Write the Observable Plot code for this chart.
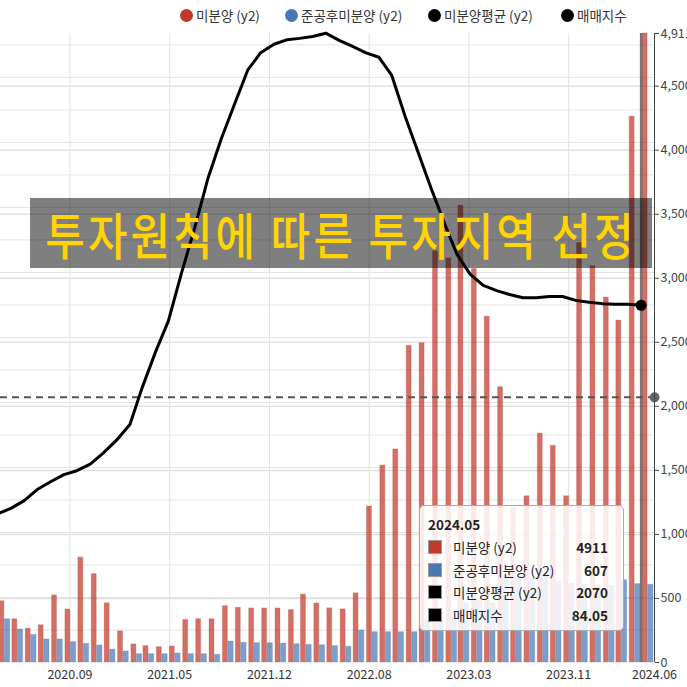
<!DOCTYPE html>
<html><head><meta charset="utf-8">
<script src="https://cdn.jsdelivr.net/npm/d3@7"></script>
<script src="https://cdn.jsdelivr.net/npm/@observablehq/plot@0.6"></script>
<style>
body{margin:0;background:#fff;font-family:"Noto Sans CJK KR","Noto Sans",sans-serif;}
#wrap{position:relative;width:687px;height:687px;overflow:hidden;}
#legend{height:28px;position:relative;font-size:13.5px;color:#333;}
#legend .item{position:absolute;top:6px;display:flex;align-items:center;white-space:nowrap;line-height:18px;}
#legend .sw{width:13px;height:13px;border-radius:50%;margin-right:3px;display:inline-block;}
#banner{position:absolute;left:30px;top:198px;width:622px;height:70px;background:rgba(0,0,0,0.5);
  display:flex;align-items:center;justify-content:center;}
#banner span{color:#ffd400;font-size:43px;font-weight:500;letter-spacing:3px;white-space:nowrap;display:inline-block;transform:scaleY(1.15);}
#tip{position:absolute;left:419px;top:505px;width:205px;height:126px;box-sizing:border-box;border:1px solid #aaa;border-radius:5px;
  background:rgba(255,255,255,0.86);font-size:13.5px;color:#222;}
#tip .title{position:absolute;left:8px;top:8px;font-weight:700;}
#tip .row{position:absolute;left:8px;width:180px;height:18px;display:flex;align-items:center;}
#tip .sq{width:12px;height:12px;border:1px solid #999;margin-right:11px;}
#tip .lab{flex:1;}
#tip .val{font-weight:700;text-align:right;}
</style></head><body>
<div id="wrap">
  <div id="legend"></div>
  <div id="chart"></div>
  <div id="banner"><span id="bannerText"></span></div>
  <div id="tip"></div>
</div>
<script>
const months = ["2020.04","2020.05","2020.06","2020.07","2020.08","2020.09","2020.10","2020.11","2020.12",
"2021.01","2021.02","2021.03","2021.04","2021.05","2021.06","2021.07","2021.08","2021.09","2021.10","2021.11","2021.12",
"2022.01","2022.02","2022.03","2022.04","2022.05","2022.06","2022.07","2022.08","2022.09","2022.10","2022.11","2022.12",
"2023.01","2023.02","2023.03","2023.04","2023.05","2023.06","2023.07","2023.08","2023.09","2023.10","2023.11","2023.12",
"2024.01","2024.02","2024.03","2024.04","2024.05"];
const unsold = [478,338,264,291,524,414,819,690,462,243,141,128,120,125,333,338,338,440,427,422,422,422,409,530,461,423,415,540,
1218,1538,1663,2472,2493,3211,3155,3567,3072,2700,2150,1208,1298,1787,1692,1298,3275,3094,2849,2670,4262,4911];
const completedUnsold = [338,258,216,180,180,159,146,133,101,86,65,65,65,70,65,65,60,164,154,151,151,148,143,138,135,128,123,250,
237,237,237,237,330,341,341,461,487,461,674,669,656,682,627,617,612,604,598,643,612,607];
const priceIndex = [52.0,52.8,54.0,55.7,56.9,58.0,58.6,59.6,61.3,63.3,65.7,71.3,76.8,81.6,89.1,95.9,103.6,109.7,114.9,120.2,122.9,
124.2,124.9,125.1,125.4,125.9,124.8,123.9,122.9,122.2,119.4,113.1,107.6,101.9,96.5,91.9,88.8,87.1,86.3,85.7,85.2,85.2,85.4,85.4,
84.8,84.5,84.3,84.2,84.2,84.05];
const unsoldAvg = 2070;
const xTickLabels = ["2020.09","2021.05","2021.12","2022.08","2023.03","2023.11","2024.06"];
const y2Ticks = [0,500,1000,1500,2000,2500,3000,3500,4000,4500,4911];
const seriesNames = ["미분양 (y2)","준공후미분양 (y2)","미분양평균 (y2)","매매지수"];
const seriesColors = ["#c0392b","#4a78b5","#000000","#000000"];
const bannerText = "투자원칙에 따른 투자지역 선정";

const parseMonth = s => { const [y,m] = s.split(".").map(Number); return new Date(Date.UTC(y, m-1, 1)); };
const DAY = 864e5;
const data = months.map((m,i)=>({month:m, date:parseMonth(m), unsold:unsold[i], comp:completedUnsold[i], idx:priceIndex[i]}));
const last = data[data.length-1];

const xStart = new Date(+parseMonth(months[0]) + 6*DAY);
const xEnd = parseMonth(xTickLabels[xTickLabels.length-1]);
const yMax = y2Ticks[y2Ticks.length-1];

// tick dates: evenly spaced between mid-month of first and sixth label, plus the domain end
const t0 = +parseMonth(xTickLabels[0]) + 14*DAY, t5 = +parseMonth(xTickLabels[5]) + 14*DAY;
const tickDates = xTickLabels.map((l,k)=> k < 6 ? new Date(t0 + (t5-t0)*k/5) : xEnd);

// hidden index axis mapped onto the y2 scale
const idxLo = 29.1, idxHi = 125.85;
const idxToY2 = d3.scaleLinear().domain([idxLo, idxHi]).range([0, yMax]);
const idxGrid = d3.range(idxLo + 5, idxHi, 5);

const font = '"Noto Sans CJK KR","Noto Sans",sans-serif';
const chart = Plot.plot({
  width:687, height:659, marginLeft:0, marginRight:33, marginTop:5, marginBottom:25,
  style:{fontFamily:font, fontSize:"12.5px", color:"#333", background:"transparent"},
  x:{type:"utc", domain:[xStart, xEnd]},
  y:{domain:[0, yMax]},
  marks:[
    Plot.ruleY(idxGrid, {y:d=>idxToY2(d), stroke:"#e2e2e2", strokeWidth:1}),
    Plot.ruleY(y2Ticks.slice(1,-1), {stroke:"#e0e0e0", strokeWidth:1.5}),
    Plot.ruleX(tickDates.slice(0,6), {stroke:"#e0e0e0", strokeWidth:1}),
    Plot.rectY(data, {x1:d=>new Date(+d.date+3.5*DAY), x2:d=>new Date(+d.date+15*DAY), y1:0, y2:"unsold",
      fill:seriesColors[0], fillOpacity:0.72, stroke:seriesColors[0], strokeOpacity:0.25, strokeWidth:1}),
    Plot.rectY(data, {x1:d=>new Date(+d.date+16*DAY), x2:d=>new Date(+d.date+28.5*DAY), y1:0, y2:"comp",
      fill:seriesColors[1], fillOpacity:0.72, stroke:seriesColors[1], strokeOpacity:0.25, strokeWidth:1}),
    Plot.ruleY([unsoldAvg], {stroke:"#555", strokeWidth:2, strokeDasharray:"7,5"}),
    Plot.ruleX([last], {x:"date", stroke:"#555", strokeWidth:2.5, strokeOpacity:0.8}),
    Plot.line(data, {x:"date", y:d=>idxToY2(d.idx), stroke:"#000", strokeWidth:3, strokeLinejoin:"round"}),
    Plot.dot([last], {x:"date", y:d=>idxToY2(d.idx), r:5.5, fill:"#000"}),
    Plot.dot([{date:xEnd, v:unsoldAvg}], {x:"date", y:"v", r:5, fill:"#666"}),
    Plot.ruleX([xEnd], {stroke:"#444", strokeWidth:1}),
    Plot.axisY({anchor:"right", ticks:y2Ticks, tickFormat:d3.format(","), tickSize:4, tickPadding:2, label:null, stroke:"#444", fill:"#444"}),
    Plot.axisX({ticks:tickDates, tickFormat:d=>xTickLabels[tickDates.findIndex(t=>+t===+d)], tickSize:0, tickPadding:8, label:null, fill:"#333"})
  ]
});
document.getElementById("chart").appendChild(chart);

// legend
const legendX = [180, 285, 428, 561];
const lg = document.getElementById("legend");
seriesNames.forEach((n,i)=>{
  const it = document.createElement("div"); it.className="item"; it.style.left = legendX[i]+"px";
  it.innerHTML = `<span class="sw" style="background:${seriesColors[i]}"></span><span>${n}</span>`;
  lg.appendChild(it);
});

// banner
document.getElementById("bannerText").textContent = bannerText;

// tooltip
const tip = document.getElementById("tip");
const tipVals = [last.unsold, last.comp, unsoldAvg, last.idx.toFixed(2)];
let html = `<div class="title">${last.month}</div>`;
seriesNames.forEach((n,i)=>{
  html += `<div class="row" style="top:${32 + i*22.5}px"><span class="sq" style="background:${seriesColors[i]}"></span><span class="lab">${n}</span><span class="val">${tipVals[i]}</span></div>`;
});
tip.innerHTML = html;
</script>
</body></html>
